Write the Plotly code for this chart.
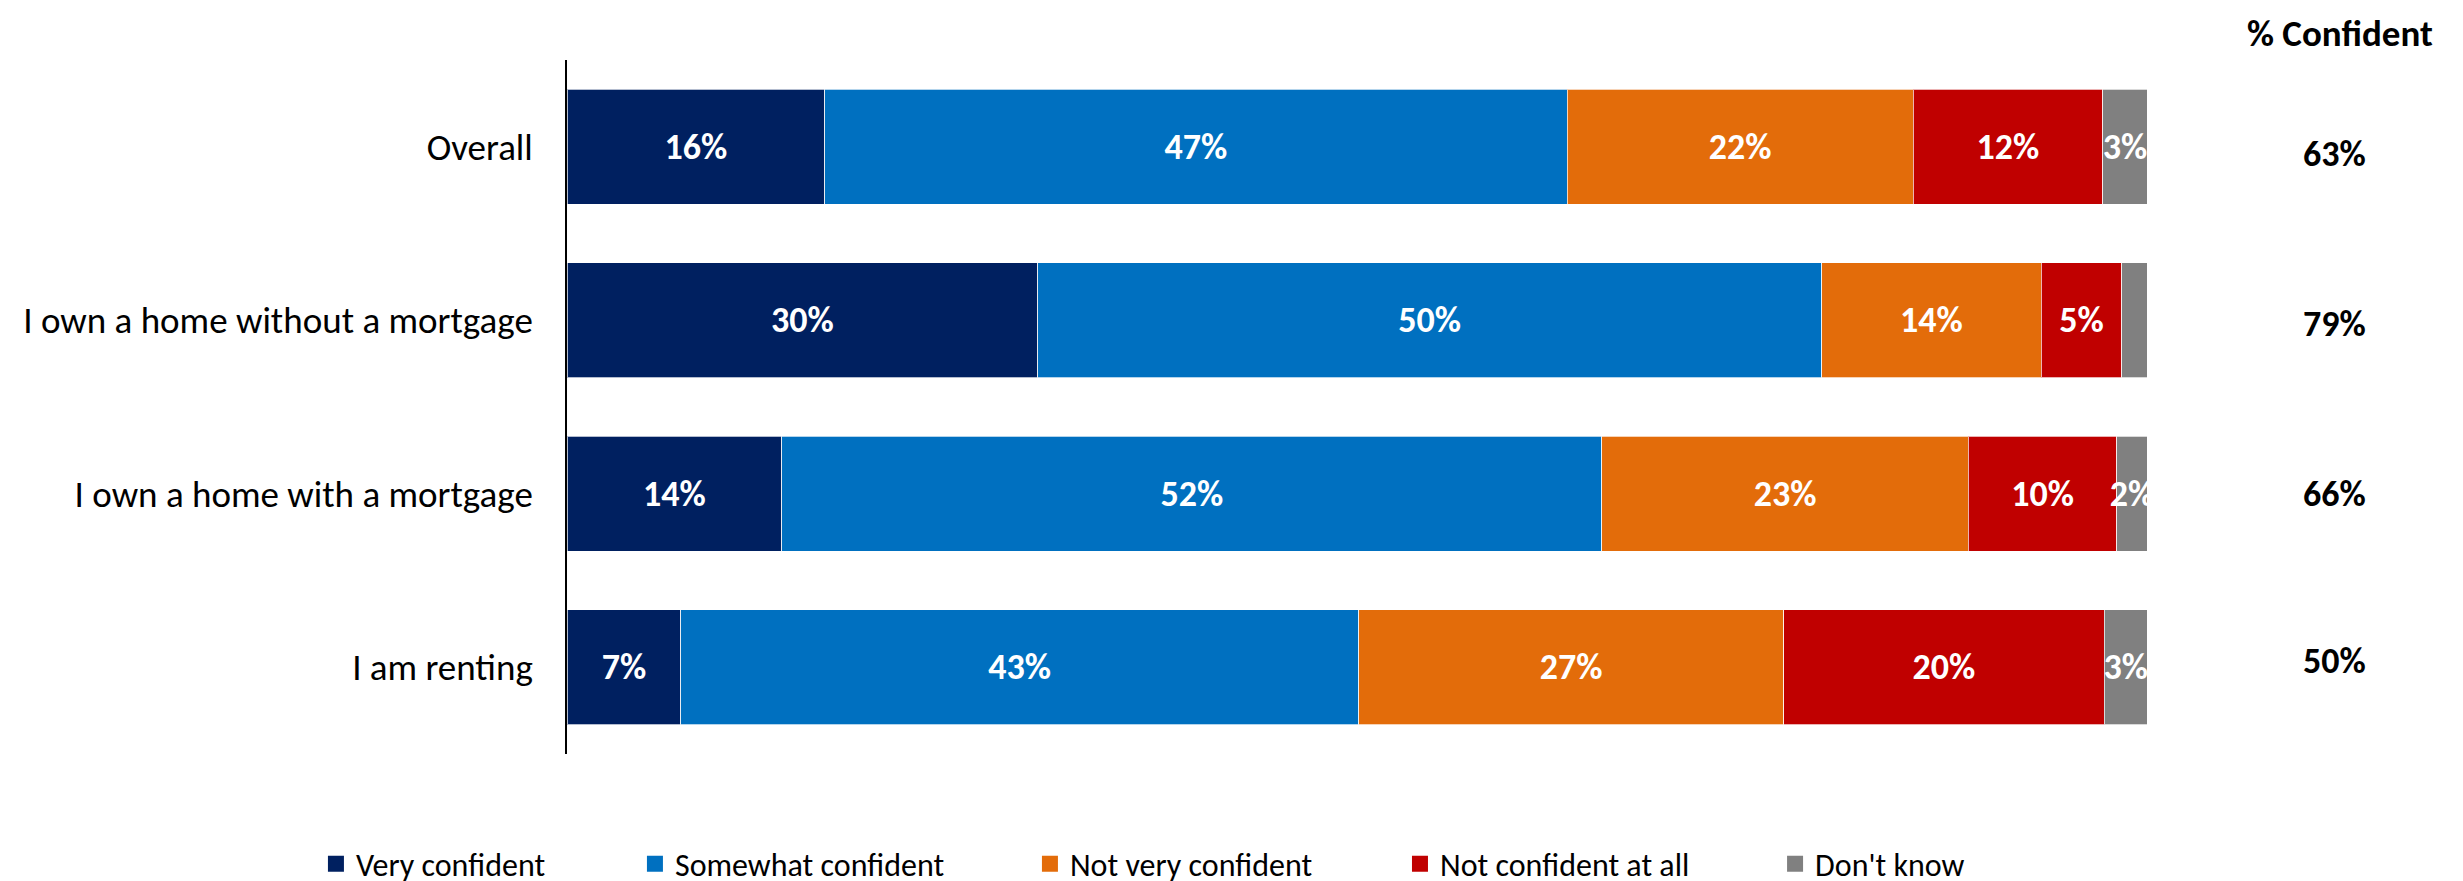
import plotly.graph_objects as go

categories = ["Overall", "I own a home without a mortgage", "I own a home with a mortgage", "I am renting"]

very_confident = [16.3, 29.8, 13.6, 7.2]
somewhat_confident = [47.0, 49.6, 51.9, 42.9]
not_very_confident = [21.9, 13.9, 23.2, 26.9]
not_confident_at_all = [12.0, 5.1, 9.4, 20.3]
dont_know = [2.8, 1.6, 1.9, 2.7]

very_labels = ["16%", "30%", "14%", "7%"]
somewhat_labels = ["47%", "50%", "52%", "43%"]
not_very_labels = ["22%", "14%", "23%", "27%"]
not_at_all_labels = ["12%", "5%", "10%", "20%"]
dont_know_labels = ["3%", "", "2%", "3%"]

pct_confident = ["63%", "79%", "66%", "50%"]

series_names = ["Very confident", "Somewhat confident", "Not very confident",
                "Not confident at all", "Don't know"]
series_values = [very_confident, somewhat_confident, not_very_confident,
                 not_confident_at_all, dont_know]
series_labels = [very_labels, somewhat_labels, not_very_labels,
                 not_at_all_labels, dont_know_labels]
colors = ["#002060", "#0070C0", "#E36C0A", "#C00000", "#808080"]
legend_x = [-0.1589, 0.0430, 0.2930, 0.5272, 0.7646]
value_yshift = [-7, -3.5, 0, 6]

FONT = "Carlito, Calibri, Lato, sans-serif"

fig = go.Figure()
for i, (name, vals, labels, color) in enumerate(zip(series_names, series_values, series_labels, colors)):
    fig.add_trace(go.Bar(
        name=name, y=categories, x=vals, orientation="h",
        marker=dict(color=color, line=dict(color="rgba(255,255,255,0.7)", width=1)),
        text=labels, textposition="inside", insidetextanchor="middle",
        textangle=0, constraintext="none",
        textfont=dict(family=FONT, size=36, color="white", weight="bold"),
        hoverinfo="skip", showlegend=False,
    ))
    lg = "legend" if i == 0 else "legend%d" % (i + 1)
    fig.add_trace(go.Scatter(
        name=name, x=[None], y=[None], mode="markers",
        marker=dict(symbol="square", size=18, color=color),
        legend=lg, showlegend=True, hoverinfo="skip",
    ))

for cat, val, ys in zip(categories, pct_confident, value_yshift):
    fig.add_annotation(x=1.1184, xref="paper", y=cat, yref="y", text="<b>%s</b>" % val,
                       showarrow=False, font=dict(family=FONT, size=36, color="black"),
                       xanchor="center", yanchor="middle", yshift=ys)
fig.add_annotation(x=1.1222, xref="paper", y=1.0375, yref="paper", text="<b>% Confident</b>",
                   showarrow=False, font=dict(family=FONT, size=37, color="black"),
                   xanchor="center", yanchor="middle")

legend_common = dict(orientation="h", xanchor="left", y=-0.1585, yanchor="middle",
                     font=dict(family=FONT, size=32, color="black"),
                     itemwidth=30, bgcolor="rgba(0,0,0,0)", borderwidth=0)
layout_legends = {}
for i, lx in enumerate(legend_x):
    key = "legend" if i == 0 else "legend%d" % (i + 1)
    layout_legends[key] = dict(legend_common, x=lx)

fig.update_layout(
    width=2463, height=900,
    barmode="stack", bargap=0.337,
    template="none",
    paper_bgcolor="white", plot_bgcolor="white",
    margin=dict(l=559, r=324, t=52, b=154, pad=0),
    font=dict(family=FONT, size=36, color="black"),
    showlegend=True,
    xaxis=dict(range=[0, 100], showgrid=False, zeroline=False, showticklabels=False,
               showline=False, ticks=""),
    yaxis=dict(autorange="reversed", showgrid=False, zeroline=False, showline=True,
               linecolor="black", linewidth=1.5, ticks="", ticklabelstandoff=25,
               tickfont=dict(family=FONT, size=37, color="black")),
    **layout_legends,
)

fig.write_html("out.html")
